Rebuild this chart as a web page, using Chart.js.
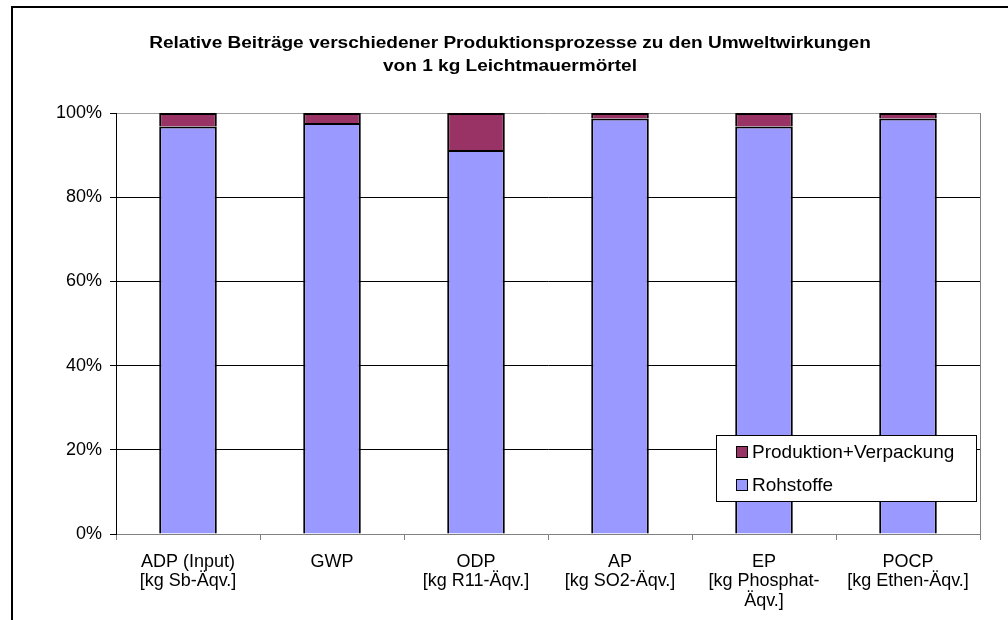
<!DOCTYPE html>
<html>
<head>
<meta charset="utf-8">
<script src="https://cdn.jsdelivr.net/npm/chart.js@4.4.1/dist/chart.umd.min.js"></script>
<style>
  html, body { margin: 0; padding: 0; background: #fff; }
  #wrap { width: 1008px; height: 620px; }
</style>
</head>
<body>
<div id="wrap"><canvas id="c" width="1008" height="620"></canvas></div>
<script>
// Kategorien (mehrzeilige Achsenbeschriftungen)
const categories = [
  ["ADP (Input)", "[kg Sb-Äqv.]"],
  ["GWP"],
  ["ODP", "[kg R11-Äqv.]"],
  ["AP", "[kg SO2-Äqv.]"],
  ["EP", "[kg Phosphat-", "Äqv.]"],
  ["POCP", "[kg Ethen-Äqv.]"]
];
// Anteile in %
const rohstoffe  = [96.8, 97.6, 91.2, 98.7, 96.8, 98.7];
const produktion = [3.2, 2.4, 8.8, 1.3, 3.2, 1.3];
const yTicks = [0, 20, 40, 60, 80, 100];
const titleLines = [
  "Relative Beiträge verschiedener Produktionsprozesse zu den Umweltwirkungen",
  "von 1 kg Leichtmauermörtel"
];

const FONT = '"Liberation Sans", Arial, sans-serif';
// untere Kante weglassen, damit die Fuge zwischen den Stapeln nicht doppelt wird
const barBorder = { top: 2, bottom: 0, left: 2, right: 2 };

// Rahmen, Titel, rechte Kante der Zeichenfläche und Legende
const decor = {
  id: 'decor',
  beforeDraw(chart) {
    const ctx = chart.ctx;
    ctx.save();
    ctx.fillStyle = '#fff';
    ctx.fillRect(0, 0, chart.width, chart.height);
    ctx.strokeStyle = '#000';
    ctx.lineWidth = 2;
    ctx.beginPath();
    ctx.moveTo(12, chart.height);
    ctx.lineTo(12, 7);
    ctx.lineTo(chart.width, 7);
    ctx.stroke();
    ctx.restore();
  },
  afterDraw(chart) {
    const ctx = chart.ctx;
    const a = chart.chartArea;
    ctx.save();
    // rechte Kante
    ctx.strokeStyle = '#808080';
    ctx.lineWidth = 1;
    ctx.beginPath();
    ctx.moveTo(a.right + 0.5, a.top);
    ctx.lineTo(a.right + 0.5, a.bottom);
    ctx.stroke();

    // Titel (etwas breit laufende Schrift wie im Original)
    ctx.fillStyle = '#000';
    ctx.textAlign = 'center';
    ctx.textBaseline = 'middle';
    ctx.font = 'bold 16px ' + FONT;
    const sx = 1.19;
    titleLines.forEach((t, i) => {
      ctx.save();
      ctx.translate(510, 44 + i * 23);
      ctx.scale(sx, 1);
      ctx.fillText(t, 0, 0);
      ctx.restore();
    });

    // Legende (umgekehrte Reihenfolge wie in Excel)
    const bx = 716, by = 435, bw = 260, bh = 66;
    ctx.fillStyle = '#fff';
    ctx.fillRect(bx, by, bw, bh);
    ctx.strokeStyle = '#000';
    ctx.strokeRect(bx + 0.5, by + 0.5, bw, bh);
    ctx.font = '19px ' + FONT;
    ctx.textAlign = 'left';
    const ds = chart.data.datasets.slice().reverse();
    ds.forEach((d, i) => {
      const cy = 452 + i * 33;
      ctx.fillStyle = d.backgroundColor;
      ctx.fillRect(736, cy - 5, 11, 11);
      ctx.strokeStyle = '#000';
      ctx.strokeRect(736.5, cy - 5.5, 11, 11);
      ctx.fillStyle = '#000';
      ctx.fillText(d.label, 752, cy + 1);
    });
    ctx.restore();
  }
};

new Chart(document.getElementById('c'), {
  type: 'bar',
  data: {
    labels: categories,
    datasets: [
      { label: 'Rohstoffe', data: rohstoffe, backgroundColor: '#9999FF',
        borderColor: '#000', borderWidth: barBorder, borderSkipped: false, inflateAmount: 0 },
      { label: 'Produktion+Verpackung', data: produktion, backgroundColor: '#993366',
        borderColor: '#000', borderWidth: barBorder, borderSkipped: false, inflateAmount: 0 }
    ]
  },
  options: {
    responsive: false,
    animation: false,
    layout: { padding: { left: 16, right: 28, top: 113, bottom: 0 } },
    plugins: { legend: { display: false }, title: { display: false }, tooltip: { enabled: false } },
    datasets: { bar: { categoryPercentage: 1, barPercentage: 0.4 } },
    scales: {
      x: {
        stacked: true,
        afterFit: s => { s.height = 86; },
        grid: { drawOnChartArea: false, tickLength: 6, color: '#808080', offset: true },
        border: { color: '#808080' },
        ticks: { color: '#000', padding: 12, maxRotation: 0, autoSkip: false,
                 font: { family: FONT, size: 18, lineHeight: 1.08 } }
      },
      y: {
        stacked: true,
        min: 0, max: 100,
        afterFit: s => { s.width = 100; },
        afterBuildTicks: s => { s.ticks = yTicks.map(v => ({ value: v })); },
        grid: {
          tickLength: 6,
          tickColor: '#000',
          color: c => (c.tick && (c.tick.value === 100 || c.tick.value === 0)) ? '#a0a0a0' : '#000'
        },
        border: { color: '#000' },
        ticks: { color: '#000', padding: 8, callback: v => v + '%',
                 font: { family: FONT, size: 18 } }
      }
    }
  },
  plugins: [decor]
});
</script>
</body>
</html>
